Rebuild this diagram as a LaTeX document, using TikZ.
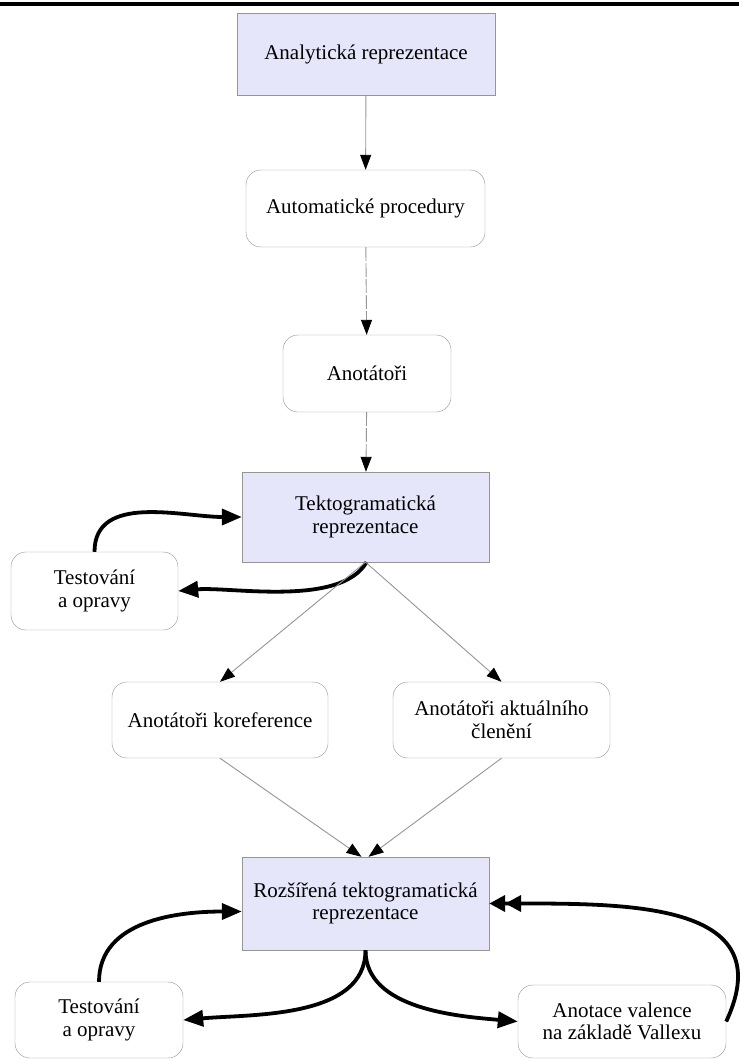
\documentclass[tikz,border=0pt]{standalone}
\usepackage{fontspec}
\setmainfont{Liberation Serif}
\usetikzlibrary{arrows.meta}
\definecolor{lavbox}{HTML}{E6E6FA}
\definecolor{boxline}{HTML}{959595}

\begin{document}
\begin{tikzpicture}[x=1pt, y=1pt,
    repr/.style={draw=boxline, fill=lavbox, align=center, inner sep=0pt, font=\fontsize{21}{22.5}\selectfont},
    proc/.style={draw=boxline, fill=white, rounded corners=15pt, align=center, inner sep=0pt, font=\fontsize{21}{22.5}\selectfont},
    thinarr/.style={draw=boxline, line width=0.9pt, -{Triangle[length=15pt, width=11pt, color=black]}},
    thickarr/.style={line width=3.8pt, -{Triangle[length=20pt, width=16pt]}}]
    \useasboundingbox (0,0) rectangle (739,-1059);
    \draw[line width=4.5pt] (0,-4) -- (739,-4);

    \node[repr, minimum width=258pt, minimum height=82pt] (ana) at (366,-54) {Analytická reprezentace};
    \node[proc, minimum width=239pt, minimum height=77pt] (aut) at (365.5,-208.5) {Automatické procedury};
    \node[proc, minimum width=168pt, minimum height=77pt] (ano) at (367,-373.5) {Anotátoři};
    \node[repr, minimum width=247pt, minimum height=90pt] (tek) at (365.5,-517) {Tektogramatická\\reprezentace};
    \node[proc, minimum width=167pt, minimum height=78pt] (tst) at (94.5,-591) {Testování\\a opravy};
    \node[proc, minimum width=216pt, minimum height=76pt] (kor) at (220,-720) {Anotátoři koreference};
    \node[proc, minimum width=217pt, minimum height=76pt] (akc) at (501.5,-720) {Anotátoři aktuálního\\členění};
    \node[repr, minimum width=247pt, minimum height=93pt] (roz) at (365.5,-903.5) {Rozšířená tektogramatická\\reprezentace};
    \node[proc, minimum width=168pt, minimum height=76pt] (tsr) at (99,-1020) {Testování\\a opravy};
    \node[proc, minimum width=208pt, minimum height=73pt] (val) at (622,-1021.5) {Anotace valence\\na základě Vallexu};

    \draw[thinarr] (ana) -- (aut);
    \draw[thinarr, dash pattern=on 14pt off 2pt] (aut) -- (ano);
    \draw[thinarr, dash pattern=on 14pt off 2pt] (ano) -- (tek);
    \draw[thickarr] (tst.north) to[out=90, in=180] (tek.west);
    \draw[thickarr] ([xshift=1pt]tek.south) to[out=-120, in=5, looseness=0.7] (tst.east);
    \draw[thinarr] (tek.south) -- (kor.north);
    \draw[thinarr] (tek.south) -- (akc.north);
    \draw[thinarr] (kor.south) -- ([xshift=-4pt]roz.north);
    \draw[thinarr] (akc.south) -- ([xshift=3pt]roz.north);

    \draw[thickarr] (tsr.north) to[out=90, in=180] ([yshift=-8pt]roz.west);
    \draw[thickarr] (roz.south) to[out=-90, in=5, looseness=0.9] (tsr.east);
    \draw[thickarr] (roz.south) to[out=-90, in=175, looseness=0.9] (val.west);
    \draw[line width=3.8pt, -{Triangle[length=16pt, width=16pt] Triangle[length=16pt, width=16pt]}] (val.east) to[out=65, in=0, looseness=1.3] (roz.east);
\end{tikzpicture}
\end{document}
